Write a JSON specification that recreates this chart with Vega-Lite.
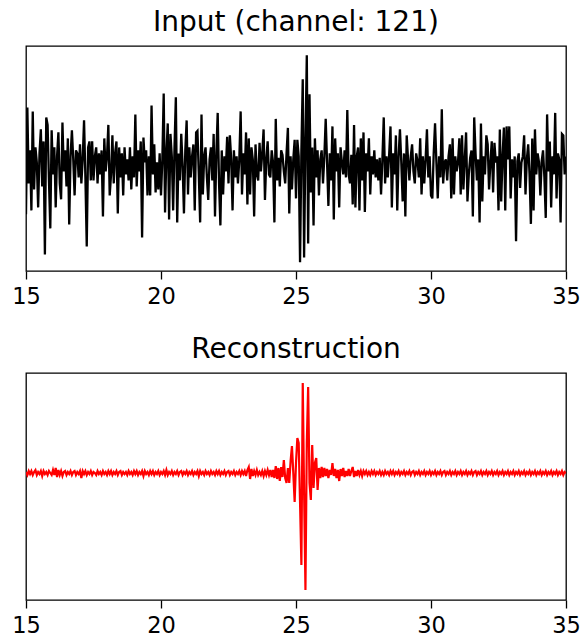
{
"$schema": "https://vega.github.io/schema/vega-lite/v6.json",
"background": "white",
"padding": {"left": 11, "top": 7, "right": 0, "bottom": 0},
"spacing": 25,
"data": {"values": [
{"t":15.00,"input":-1.63,"recon":0.01},{"t":15.05,"input":1.93,"recon":-0.02},{"t":15.10,"input":-0.6,"recon":0.02},{"t":15.15,"input":0.5,"recon":-0.01},{"t":15.20,"input":-1.5,"recon":0.02},
{"t":15.25,"input":1.8,"recon":-0.02},{"t":15.30,"input":-0.8,"recon":0.01},{"t":15.35,"input":0.6,"recon":0.03},{"t":15.40,"input":0.1,"recon":-0.02},{"t":15.45,"input":-1.4,"recon":0.01},
{"t":15.50,"input":0.4,"recon":-0.01},{"t":15.55,"input":1.2,"recon":0.02},{"t":15.60,"input":-0.7,"recon":-0.03},{"t":15.65,"input":0.8,"recon":0.02},{"t":15.70,"input":-2.97,"recon":-0.01},
{"t":15.75,"input":1.6,"recon":0.01},{"t":15.80,"input":1.35,"recon":-0.02},{"t":15.85,"input":-0.5,"recon":0.02},{"t":15.90,"input":-2.1,"recon":0.0},{"t":15.95,"input":1.17,"recon":-0.02},
{"t":16.00,"input":-0.3,"recon":0.03},{"t":16.05,"input":0.6,"recon":-0.02},{"t":16.10,"input":-1.4,"recon":0.05},{"t":16.15,"input":0.3,"recon":-0.04},{"t":16.20,"input":1.1,"recon":0.03},
{"t":16.25,"input":-0.6,"recon":-0.02},{"t":16.30,"input":-1.13,"recon":0.02},{"t":16.35,"input":1.43,"recon":-0.03},{"t":16.40,"input":-0.2,"recon":0.01},{"t":16.45,"input":0.5,"recon":0.02},
{"t":16.50,"input":-0.7,"recon":-0.02},{"t":16.55,"input":0.9,"recon":0.01},{"t":16.60,"input":-1.97,"recon":-0.01},{"t":16.65,"input":0.3,"recon":0.02},{"t":16.70,"input":1.17,"recon":-0.02},
{"t":16.75,"input":0.2,"recon":0.01},{"t":16.80,"input":-1.0,"recon":0.02},{"t":16.85,"input":0.5,"recon":-0.02},{"t":16.90,"input":0.4,"recon":0.01},{"t":16.95,"input":-0.4,"recon":-0.01},
{"t":17.00,"input":0.7,"recon":0.02},{"t":17.05,"input":-0.6,"recon":-0.05},{"t":17.10,"input":0.2,"recon":0.02},{"t":17.15,"input":1.5,"recon":-0.01},{"t":17.20,"input":-0.4,"recon":0.02},
{"t":17.25,"input":-2.7,"recon":-0.02},{"t":17.30,"input":0.6,"recon":0.01},{"t":17.35,"input":0.8,"recon":-0.01},{"t":17.40,"input":-0.5,"recon":0.02},{"t":17.45,"input":0.8,"recon":-0.02},
{"t":17.50,"input":-0.5,"recon":0.01},{"t":17.55,"input":0.3,"recon":0.0},{"t":17.60,"input":0.6,"recon":-0.02},{"t":17.65,"input":-0.6,"recon":0.02},{"t":17.70,"input":0.4,"recon":-0.01},
{"t":17.75,"input":-0.3,"recon":0.01},{"t":17.80,"input":0.5,"recon":-0.02},{"t":17.85,"input":-1.7,"recon":0.02},{"t":17.90,"input":0.9,"recon":-0.01},{"t":17.95,"input":-0.2,"recon":0.01},
{"t":18.00,"input":0.3,"recon":-0.02},{"t":18.05,"input":1.35,"recon":0.02},{"t":18.10,"input":-1.0,"recon":-0.01},{"t":18.15,"input":-0.3,"recon":0.02},{"t":18.20,"input":1.0,"recon":-0.02},
{"t":18.25,"input":-0.6,"recon":0.01},{"t":18.30,"input":0.4,"recon":-0.01},{"t":18.35,"input":0.8,"recon":0.02},{"t":18.40,"input":-1.6,"recon":-0.02},{"t":18.45,"input":0.6,"recon":0.01},
{"t":18.50,"input":-0.4,"recon":0.02},{"t":18.55,"input":0.4,"recon":-0.02},{"t":18.60,"input":-1.0,"recon":0.01},{"t":18.65,"input":0.6,"recon":-0.01},{"t":18.70,"input":-0.3,"recon":0.01},
{"t":18.75,"input":0.2,"recon":-0.02},{"t":18.80,"input":-0.5,"recon":0.02},{"t":18.85,"input":0.6,"recon":-0.01},{"t":18.90,"input":-0.8,"recon":0.01},{"t":18.95,"input":0.3,"recon":-0.02},
{"t":19.00,"input":-0.4,"recon":0.02},{"t":19.05,"input":1.7,"recon":-0.01},{"t":19.10,"input":-0.7,"recon":0.02},{"t":19.15,"input":0.5,"recon":-0.02},{"t":19.20,"input":-0.2,"recon":0.01},
{"t":19.25,"input":0.8,"recon":-0.01},{"t":19.30,"input":-2.4,"recon":0.02},{"t":19.35,"input":0.93,"recon":-0.03},{"t":19.40,"input":0.1,"recon":0.02},{"t":19.45,"input":0.5,"recon":-0.01},
{"t":19.50,"input":-1.0,"recon":0.01},{"t":19.55,"input":0.3,"recon":-0.02},{"t":19.60,"input":-1.0,"recon":0.02},{"t":19.65,"input":2.0,"recon":-0.01},{"t":19.70,"input":-0.3,"recon":0.02},
{"t":19.75,"input":0.7,"recon":-0.02},{"t":19.80,"input":-0.9,"recon":0.01},{"t":19.85,"input":0.1,"recon":-0.01},{"t":19.90,"input":-0.8,"recon":0.02},{"t":19.95,"input":0.4,"recon":-0.02},
{"t":20.00,"input":-1.0,"recon":0.01},{"t":20.05,"input":0.2,"recon":-0.01},{"t":20.10,"input":2.4,"recon":0.02},{"t":20.15,"input":-1.57,"recon":-0.02},{"t":20.20,"input":0.4,"recon":0.03},
{"t":20.25,"input":1.4,"recon":-0.02},{"t":20.30,"input":-1.8,"recon":0.01},{"t":20.35,"input":1.05,"recon":-0.01},{"t":20.40,"input":0.3,"recon":0.02},{"t":20.45,"input":-1.5,"recon":-0.02},
{"t":20.50,"input":0.6,"recon":0.01},{"t":20.55,"input":2.27,"recon":-0.01},{"t":20.60,"input":-1.9,"recon":0.02},{"t":20.65,"input":0.4,"recon":-0.02},{"t":20.70,"input":-0.5,"recon":0.01},
{"t":20.75,"input":1.05,"recon":0.02},{"t":20.80,"input":0.0,"recon":-0.02},{"t":20.85,"input":-1.6,"recon":0.01},{"t":20.90,"input":0.5,"recon":-0.01},{"t":20.95,"input":1.5,"recon":0.02},
{"t":21.00,"input":-0.97,"recon":-0.02},{"t":21.05,"input":0.6,"recon":0.01},{"t":21.10,"input":-0.4,"recon":-0.01},{"t":21.15,"input":0.3,"recon":0.02},{"t":21.20,"input":0.7,"recon":-0.02},
{"t":21.25,"input":-1.5,"recon":0.01},{"t":21.30,"input":1.1,"recon":-0.01},{"t":21.35,"input":1.15,"recon":0.02},{"t":21.40,"input":-0.3,"recon":-0.03},{"t":21.45,"input":-1.9,"recon":0.02},
{"t":21.50,"input":1.7,"recon":-0.01},{"t":21.55,"input":-0.97,"recon":0.01},{"t":21.60,"input":0.3,"recon":-0.02},{"t":21.65,"input":0.6,"recon":0.02},{"t":21.70,"input":-0.4,"recon":-0.01},
{"t":21.75,"input":-1.15,"recon":0.01},{"t":21.80,"input":0.2,"recon":-0.02},{"t":21.85,"input":0.6,"recon":0.02},{"t":21.90,"input":-0.5,"recon":-0.01},{"t":21.95,"input":1.05,"recon":0.01},
{"t":22.00,"input":-1.7,"recon":-0.02},{"t":22.05,"input":0.4,"recon":0.02},{"t":22.10,"input":1.75,"recon":-0.01},{"t":22.15,"input":-0.6,"recon":0.02},{"t":22.20,"input":-2.0,"recon":-0.02},
{"t":22.25,"input":0.5,"recon":0.01},{"t":22.30,"input":-0.97,"recon":-0.01},{"t":22.35,"input":0.3,"recon":0.02},{"t":22.40,"input":-0.2,"recon":-0.02},{"t":22.45,"input":0.95,"recon":0.01},
{"t":22.50,"input":-0.6,"recon":0.02},{"t":22.55,"input":1.0,"recon":-0.02},{"t":22.60,"input":0.2,"recon":0.01},{"t":22.65,"input":-1.5,"recon":-0.01},{"t":22.70,"input":0.5,"recon":0.02},
{"t":22.75,"input":-0.4,"recon":-0.02},{"t":22.80,"input":0.3,"recon":0.01},{"t":22.85,"input":-0.6,"recon":-0.01},{"t":22.90,"input":0.2,"recon":0.02},{"t":22.95,"input":1.8,"recon":-0.02},
{"t":23.00,"input":-0.97,"recon":0.02},{"t":23.05,"input":0.4,"recon":-0.01},{"t":23.10,"input":-0.3,"recon":0.02},{"t":23.15,"input":1.1,"recon":-0.03},{"t":23.20,"input":-1.3,"recon":0.03},
{"t":23.25,"input":0.9,"recon":0.06},{"t":23.30,"input":-0.97,"recon":-0.06},{"t":23.35,"input":0.6,"recon":0.04},{"t":23.40,"input":0.2,"recon":-0.03},{"t":23.45,"input":-1.7,"recon":0.02},
{"t":23.50,"input":0.7,"recon":-0.02},{"t":23.55,"input":-0.3,"recon":0.03},{"t":23.60,"input":-0.5,"recon":-0.02},{"t":23.65,"input":0.75,"recon":0.01},{"t":23.70,"input":-0.2,"recon":-0.02},
{"t":23.75,"input":0.4,"recon":0.02},{"t":23.80,"input":1.2,"recon":-0.03},{"t":23.85,"input":-1.15,"recon":0.02},{"t":23.90,"input":0.2,"recon":-0.02},{"t":23.95,"input":0.8,"recon":0.03},
{"t":24.00,"input":-0.3,"recon":-0.02},{"t":24.05,"input":-0.4,"recon":0.03},{"t":24.10,"input":0.5,"recon":-0.04},{"t":24.15,"input":0.1,"recon":0.03},{"t":24.20,"input":-1.9,"recon":-0.05},
{"t":24.25,"input":1.55,"recon":0.07},{"t":24.30,"input":-0.5,"recon":-0.06},{"t":24.35,"input":0.25,"recon":0.05},{"t":24.40,"input":-0.7,"recon":-0.08},{"t":24.45,"input":0.5,"recon":0.06},
{"t":24.50,"input":0.35,"recon":-0.04},{"t":24.55,"input":-0.2,"recon":0.13},{"t":24.60,"input":-0.6,"recon":-0.05},{"t":24.65,"input":0.4,"recon":-0.1},{"t":24.70,"input":1.25,"recon":0.05},
{"t":24.75,"input":-1.6,"recon":-0.1},{"t":24.80,"input":0.3,"recon":0.12},{"t":24.85,"input":-0.8,"recon":0.27},{"t":24.90,"input":0.2,"recon":0.0},{"t":24.95,"input":0.85,"recon":-0.29},
{"t":25.00,"input":-1.1,"recon":0.1},{"t":25.05,"input":0.85,"recon":0.35},{"t":25.10,"input":0.3,"recon":0.3},{"t":25.15,"input":-3.23,"recon":-0.3},{"t":25.20,"input":0.5,"recon":-0.92},
{"t":25.25,"input":2.87,"recon":0.9},{"t":25.30,"input":-3.07,"recon":-0.2},{"t":25.35,"input":0.8,"recon":-1.17},{"t":25.40,"input":3.67,"recon":0.3},{"t":25.45,"input":-2.6,"recon":0.86},
{"t":25.50,"input":2.37,"recon":-0.1},{"t":25.55,"input":-0.9,"recon":-0.27},{"t":25.60,"input":0.6,"recon":0.28},{"t":25.65,"input":-2.0,"recon":-0.15},{"t":25.70,"input":0.9,"recon":0.1},
{"t":25.75,"input":-0.4,"recon":0.15},{"t":25.80,"input":0.5,"recon":-0.17},{"t":25.85,"input":-1.0,"recon":0.05},{"t":25.90,"input":0.2,"recon":-0.05},{"t":25.95,"input":0.5,"recon":0.06},
{"t":26.00,"input":-0.6,"recon":-0.04},{"t":26.05,"input":0.3,"recon":0.05},{"t":26.10,"input":1.55,"recon":-0.03},{"t":26.15,"input":0.1,"recon":0.04},{"t":26.20,"input":-1.35,"recon":-0.05},
{"t":26.25,"input":0.4,"recon":0.03},{"t":26.30,"input":-0.5,"recon":-0.02},{"t":26.35,"input":1.3,"recon":0.1},{"t":26.40,"input":-1.8,"recon":-0.03},{"t":26.45,"input":0.9,"recon":0.04},
{"t":26.50,"input":-0.2,"recon":-0.05},{"t":26.55,"input":0.4,"recon":0.03},{"t":26.60,"input":-1.4,"recon":-0.08},{"t":26.65,"input":0.6,"recon":0.04},{"t":26.70,"input":0.1,"recon":-0.03},
{"t":26.75,"input":-0.3,"recon":0.05},{"t":26.80,"input":0.5,"recon":-0.04},{"t":26.85,"input":-0.4,"recon":0.02},{"t":26.90,"input":1.85,"recon":-0.03},{"t":26.95,"input":-0.3,"recon":0.04},
{"t":27.00,"input":-0.6,"recon":-0.03},{"t":27.05,"input":0.35,"recon":0.02},{"t":27.10,"input":-1.3,"recon":0.06},{"t":27.15,"input":1.35,"recon":-0.04},{"t":27.20,"input":-1.4,"recon":0.02},
{"t":27.25,"input":0.3,"recon":-0.03},{"t":27.30,"input":0.6,"recon":0.03},{"t":27.35,"input":-1.5,"recon":-0.02},{"t":27.40,"input":0.9,"recon":0.02},{"t":27.45,"input":-0.5,"recon":-0.03},
{"t":27.50,"input":1.1,"recon":0.02},{"t":27.55,"input":-1.55,"recon":-0.01},{"t":27.60,"input":0.4,"recon":0.02},{"t":27.65,"input":-0.2,"recon":-0.02},{"t":27.70,"input":0.9,"recon":0.01},
{"t":27.75,"input":-0.97,"recon":-0.02},{"t":27.80,"input":0.3,"recon":0.02},{"t":27.85,"input":-0.3,"recon":-0.01},{"t":27.90,"input":0.5,"recon":0.02},{"t":27.95,"input":-0.4,"recon":-0.02},
{"t":28.00,"input":0.2,"recon":0.01},{"t":28.05,"input":-0.5,"recon":-0.01},{"t":28.10,"input":0.25,"recon":0.02},{"t":28.15,"input":-0.97,"recon":-0.02},{"t":28.20,"input":0.2,"recon":0.01},
{"t":28.25,"input":1.6,"recon":-0.02},{"t":28.30,"input":-0.6,"recon":0.02},{"t":28.35,"input":0.3,"recon":-0.01},{"t":28.40,"input":-0.4,"recon":0.01},{"t":28.45,"input":0.35,"recon":-0.02},
{"t":28.50,"input":1.3,"recon":0.02},{"t":28.55,"input":-1.4,"recon":-0.01},{"t":28.60,"input":0.4,"recon":0.02},{"t":28.65,"input":-0.3,"recon":-0.02},{"t":28.70,"input":1.0,"recon":0.01},
{"t":28.75,"input":-1.5,"recon":-0.01},{"t":28.80,"input":0.3,"recon":0.02},{"t":28.85,"input":1.2,"recon":-0.02},{"t":28.90,"input":0.1,"recon":0.01},{"t":28.95,"input":-1.2,"recon":-0.01},
{"t":29.00,"input":0.4,"recon":0.02},{"t":29.05,"input":-1.7,"recon":-0.02},{"t":29.10,"input":1.0,"recon":0.01},{"t":29.15,"input":0.2,"recon":-0.01},{"t":29.20,"input":-0.5,"recon":0.02},
{"t":29.25,"input":0.3,"recon":-0.02},{"t":29.30,"input":0.7,"recon":0.01},{"t":29.35,"input":-0.2,"recon":0.02},{"t":29.40,"input":-0.6,"recon":-0.02},{"t":29.45,"input":0.4,"recon":0.01},
{"t":29.50,"input":0.14,"recon":-0.01},{"t":29.55,"input":-0.4,"recon":0.02},{"t":29.60,"input":0.9,"recon":-0.02},{"t":29.65,"input":-0.97,"recon":0.01},{"t":29.70,"input":0.3,"recon":-0.01},
{"t":29.75,"input":-0.6,"recon":0.02},{"t":29.80,"input":0.2,"recon":-0.02},{"t":29.85,"input":1.2,"recon":0.01},{"t":29.90,"input":-0.4,"recon":-0.01},{"t":29.95,"input":0.3,"recon":0.02},
{"t":30.00,"input":-1.0,"recon":-0.02},{"t":30.05,"input":-1.1,"recon":0.01},{"t":30.10,"input":0.4,"recon":-0.01},{"t":30.15,"input":1.4,"recon":0.02},{"t":30.20,"input":0.1,"recon":-0.02},
{"t":30.25,"input":-1.1,"recon":0.01},{"t":30.30,"input":0.3,"recon":-0.01},{"t":30.35,"input":-0.4,"recon":0.02},{"t":30.40,"input":1.87,"recon":-0.02},{"t":30.45,"input":-0.6,"recon":0.01},
{"t":30.50,"input":0.1,"recon":0.02},{"t":30.55,"input":0.2,"recon":-0.02},{"t":30.60,"input":-0.5,"recon":0.01},{"t":30.65,"input":0.3,"recon":-0.01},{"t":30.70,"input":0.7,"recon":0.02},
{"t":30.75,"input":-1.1,"recon":-0.02},{"t":30.80,"input":0.9,"recon":0.01},{"t":30.85,"input":-0.97,"recon":-0.01},{"t":30.90,"input":0.3,"recon":0.02},{"t":30.95,"input":-0.2,"recon":-0.02},
{"t":31.00,"input":0.1,"recon":0.01},{"t":31.05,"input":0.9,"recon":-0.01},{"t":31.10,"input":-0.97,"recon":0.02},{"t":31.15,"input":1.0,"recon":-0.02},{"t":31.20,"input":-0.8,"recon":0.01},
{"t":31.25,"input":0.2,"recon":-0.01},{"t":31.30,"input":1.1,"recon":0.02},{"t":31.35,"input":-1.2,"recon":-0.02},{"t":31.40,"input":-0.3,"recon":0.01},{"t":31.45,"input":0.25,"recon":-0.01},
{"t":31.50,"input":0.5,"recon":0.02},{"t":31.55,"input":-1.7,"recon":-0.02},{"t":31.60,"input":1.6,"recon":0.01},{"t":31.65,"input":0.4,"recon":0.02},{"t":31.70,"input":-0.5,"recon":-0.02},
{"t":31.75,"input":0.2,"recon":0.01},{"t":31.80,"input":-1.9,"recon":-0.01},{"t":31.85,"input":1.4,"recon":0.02},{"t":31.90,"input":-1.2,"recon":-0.02},{"t":31.95,"input":0.3,"recon":0.01},
{"t":32.00,"input":-0.3,"recon":-0.01},{"t":32.05,"input":1.0,"recon":0.02},{"t":32.10,"input":0.7,"recon":-0.02},{"t":32.15,"input":-0.8,"recon":0.01},{"t":32.20,"input":0.1,"recon":-0.01},
{"t":32.25,"input":0.8,"recon":0.02},{"t":32.30,"input":-0.9,"recon":-0.02},{"t":32.35,"input":0.75,"recon":0.01},{"t":32.40,"input":0.1,"recon":-0.01},{"t":32.45,"input":0.3,"recon":0.02},
{"t":32.50,"input":-1.5,"recon":-0.02},{"t":32.55,"input":1.2,"recon":0.01},{"t":32.60,"input":-1.2,"recon":-0.01},{"t":32.65,"input":0.3,"recon":0.02},{"t":32.70,"input":1.26,"recon":-0.02},
{"t":32.75,"input":-1.5,"recon":0.01},{"t":32.80,"input":1.3,"recon":-0.01},{"t":32.85,"input":0.2,"recon":0.02},{"t":32.90,"input":1.3,"recon":-0.02},{"t":32.95,"input":-1.1,"recon":0.01},
{"t":33.00,"input":0.2,"recon":-0.01},{"t":33.05,"input":-0.4,"recon":0.02},{"t":33.10,"input":0.3,"recon":-0.02},{"t":33.15,"input":-2.53,"recon":0.01},{"t":33.20,"input":0.14,"recon":-0.01},
{"t":33.25,"input":0.4,"recon":0.02},{"t":33.30,"input":-0.75,"recon":-0.02},{"t":33.35,"input":0.1,"recon":0.01},{"t":33.40,"input":0.3,"recon":-0.01},{"t":33.45,"input":1.0,"recon":0.02},
{"t":33.50,"input":-0.97,"recon":-0.02},{"t":33.55,"input":0.2,"recon":0.01},{"t":33.60,"input":0.7,"recon":-0.01},{"t":33.65,"input":-0.3,"recon":0.02},{"t":33.70,"input":-1.95,"recon":-0.02},
{"t":33.75,"input":0.9,"recon":0.01},{"t":33.80,"input":-1.5,"recon":-0.01},{"t":33.85,"input":1.2,"recon":0.02},{"t":33.90,"input":-0.3,"recon":-0.02},{"t":33.95,"input":0.4,"recon":0.01},
{"t":34.00,"input":0.1,"recon":-0.01},{"t":34.05,"input":-1.0,"recon":0.02},{"t":34.10,"input":0.14,"recon":-0.02},{"t":34.15,"input":0.5,"recon":0.01},{"t":34.20,"input":-0.4,"recon":-0.01},
{"t":34.25,"input":-1.75,"recon":0.02},{"t":34.30,"input":1.7,"recon":-0.02},{"t":34.35,"input":-0.2,"recon":0.01},{"t":34.40,"input":0.8,"recon":-0.01},{"t":34.45,"input":-1.4,"recon":0.02},
{"t":34.50,"input":0.3,"recon":-0.02},{"t":34.55,"input":-0.3,"recon":0.01},{"t":34.60,"input":1.75,"recon":-0.01},{"t":34.65,"input":-1.1,"recon":0.02},{"t":34.70,"input":0.4,"recon":-0.02},
{"t":34.75,"input":0.2,"recon":0.01},{"t":34.80,"input":-1.9,"recon":-0.01},{"t":34.85,"input":1.05,"recon":0.02},{"t":34.90,"input":1.0,"recon":-0.02},{"t":34.95,"input":-0.3,"recon":0.01},
{"t":35.00,"input":0.3,"recon":0.0}
]},
"vconcat": [
{
"title": {"text": "Input (channel: 121)"},
"width": 540, "height": 225,
"mark": {"type": "line", "color": "#000000", "strokeWidth": 2.3, "clip": true},
"encoding": {
"x": {"field": "t", "type": "quantitative", "scale": {"domain": [15, 35], "nice": false, "zero": false},
 "axis": {"values": [15, 20, 25, 30, 35], "tickSize": 8, "tickColor": "#000000", "tickWidth": 1.3, "domain": false, "grid": false, "labelFontSize": 22.5, "labelColor": "#000000", "labelFont": "DejaVu Sans", "labelPadding": 6, "labelFlush": false, "labelOverlap": false, "title": null}},
"y": {"field": "input", "type": "quantitative", "scale": {"domain": [-3.52, 3.98], "nice": false, "zero": false}, "axis": null}
}
},
{
"title": {"text": "Reconstruction"},
"width": 540, "height": 227,
"mark": {"type": "line", "color": "#ff0000", "strokeWidth": 2.2, "clip": true},
"encoding": {
"x": {"field": "t", "type": "quantitative", "scale": {"domain": [15, 35], "nice": false, "zero": false},
 "axis": {"values": [15, 20, 25, 30, 35], "tickSize": 8, "tickColor": "#000000", "tickWidth": 1.3, "domain": false, "grid": false, "labelFontSize": 22.5, "labelColor": "#000000", "labelFont": "DejaVu Sans", "labelPadding": 6, "labelFlush": false, "labelOverlap": false, "title": null}},
"y": {"field": "recon", "type": "quantitative", "scale": {"domain": [-1.27, 1.0], "nice": false, "zero": false}, "axis": null}
}
}
],
"config": {
"font": "DejaVu Sans",
"view": {"stroke": "#000000", "strokeWidth": 1.3},
"title": {"fontSize": 28, "font": "DejaVu Sans", "fontWeight": "normal", "color": "#000000", "anchor": "middle", "baseline": "alphabetic", "offset": 9.5}
}
}
